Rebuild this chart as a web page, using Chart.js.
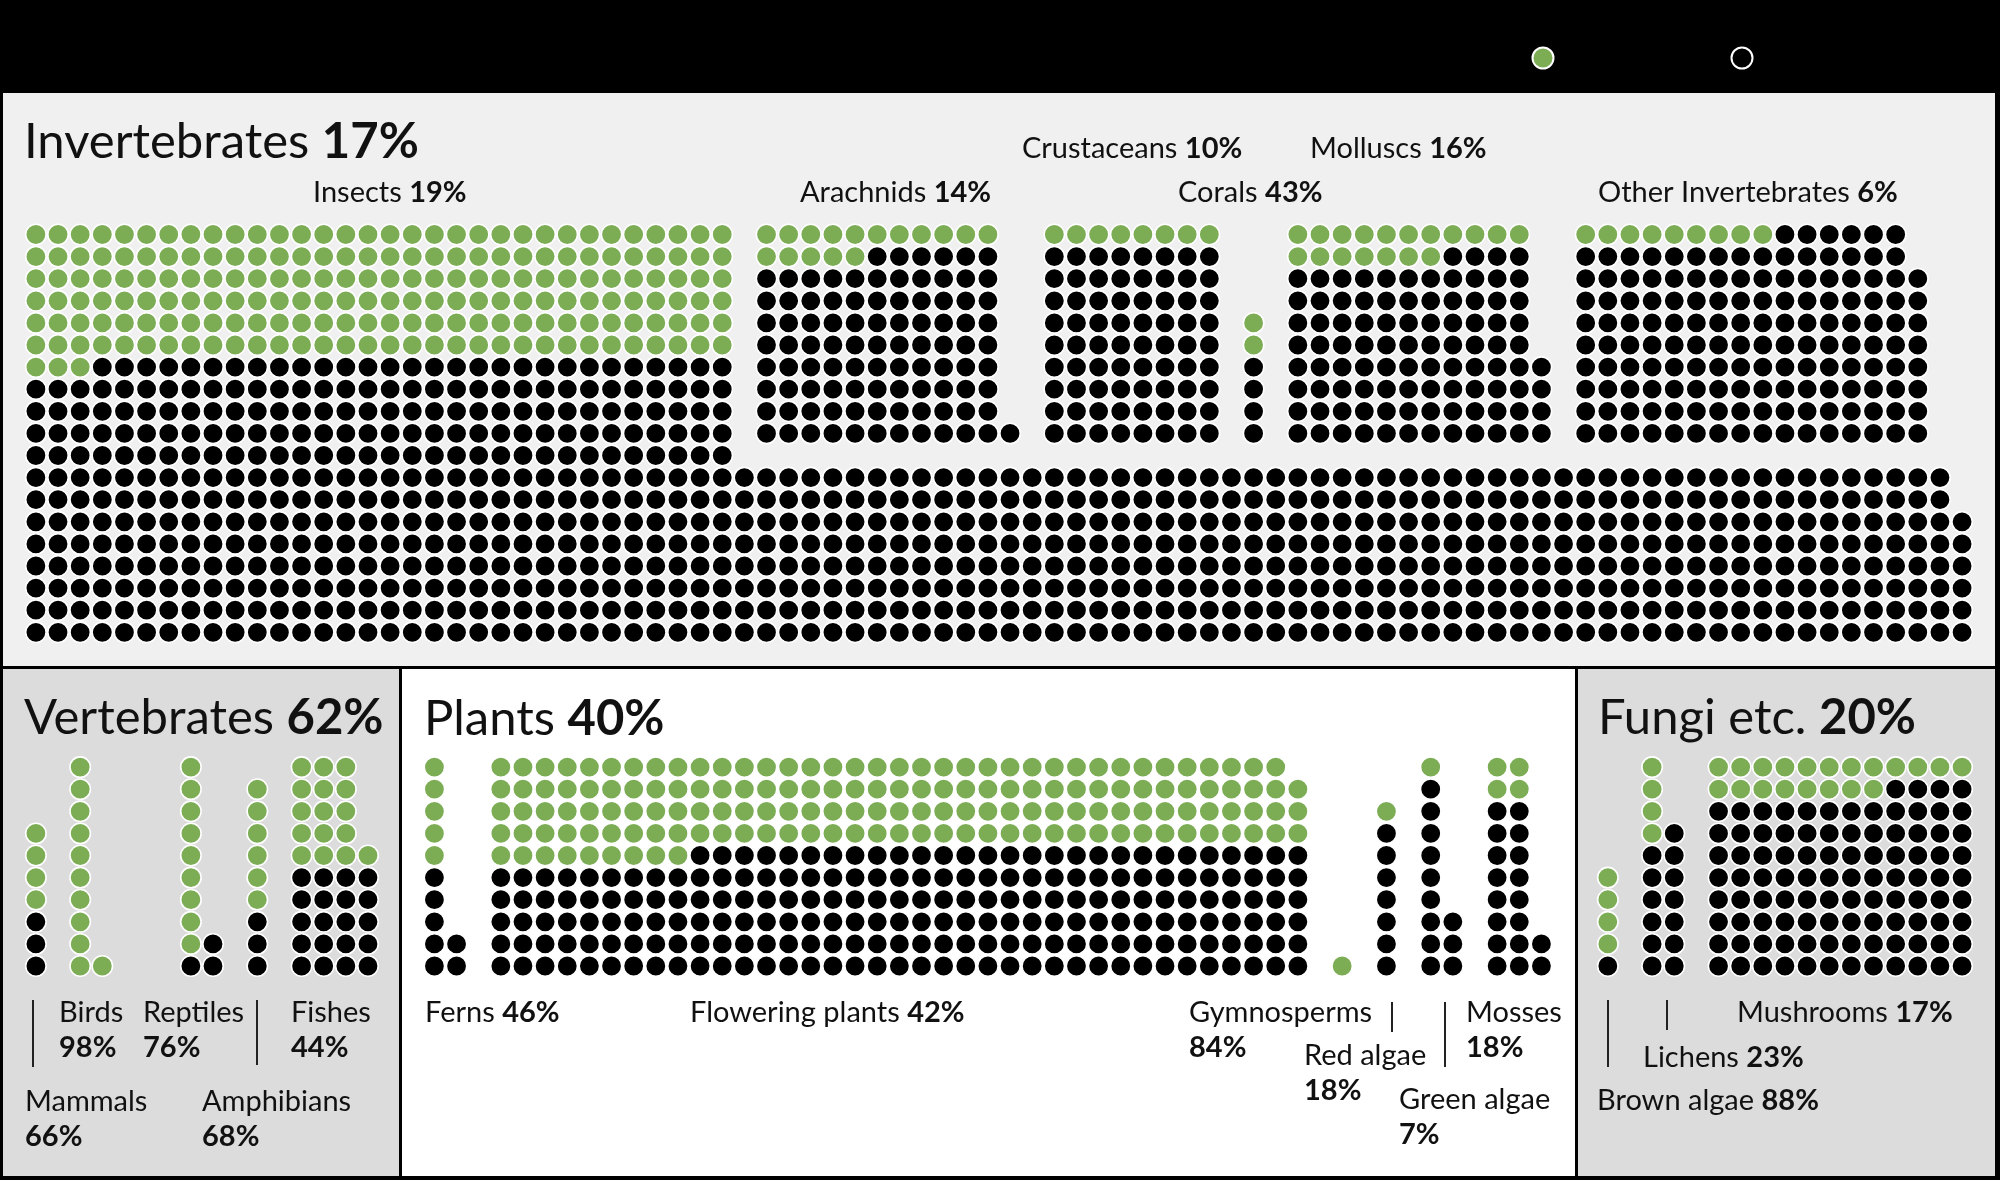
<!DOCTYPE html>
<html>
<head>
<meta charset="utf-8">
<script src="https://cdn.jsdelivr.net/npm/chart.js@4.4.1/dist/chart.umd.min.js"></script>
<style>
  html, body { margin: 0; padding: 0; background: #000; }
  #wrap { width: 2000px; height: 1180px; }
</style>
</head>
<body>
<div id="wrap"><canvas id="dots" width="2000" height="1180"></canvas></div>
<script>
// one dot per group of species, green = share shown next to the name
const groupNames = ['Insects', 'Arachnids', 'Crustaceans', 'Corals', 'Molluscs', 'Other Invertebrates',
  'Mammals', 'Birds', 'Reptiles', 'Amphibians', 'Fishes',
  'Ferns', 'Flowering plants', 'Gymnosperms', 'Red algae', 'Green algae', 'Mosses',
  'Brown algae', 'Lichens', 'Mushrooms'];
const groupShares = ['19%', '14%', '10%', '43%', '16%', '6%',
  '66%', '98%', '76%', '68%', '44%',
  '46%', '42%', '84%', '18%', '7%', '18%',
  '88%', '23%', '17%'];
// dots of each group as runs of [number of columns, dots per column]
const dotColumns = [
  [[32, 19], [55, 8], [1, 6]],
  [[11, 10], [1, 1]],
  [[8, 10]],
  [[1, 6]],
  [[11, 10], [1, 4]],
  [[15, 10], [1, 8]],
  [[1, 7]],
  [[1, 10], [1, 1]],
  [[1, 10], [1, 2]],
  [[1, 9]],
  [[3, 10], [1, 6]],
  [[1, 10], [1, 2]],
  [[36, 10], [1, 9]],
  [[1, 1]],
  [[1, 8]],
  [[1, 10], [1, 3]],
  [[2, 10], [1, 2]],
  [[1, 5]],
  [[1, 10], [1, 7]],
  [[12, 10]]
];
const greenDots = [195, 16, 8, 2, 18, 9, 4, 11, 9, 6, 16, 5, 156, 1, 1, 1, 4, 4, 4, 20];
const sectionNames = ['Invertebrates', 'Vertebrates', 'Plants', 'Fungi etc.'];
const sectionShares = ['17%', '62%', '40%', '20%'];

// layout: first column and bottom row of each group on the dot grid
const BOTTOM_PANELS = 24.1;
const firstCol = [0, 33, 46, 55, 57, 70, 0, 2, 7, 10, 12, 18, 21, 59, 61, 63, 66, 71, 73, 76];
const bottomRow = [18, 9, 9, 9, 9, 9].concat(Array(14).fill(BOTTOM_PANELS + 9));

// label placement [x, baseline, pct on second line]
const labelPos = [
  [313, 202, 0], [800, 202, 0], [1022, 158, 0], [1178, 202, 0], [1310, 158, 0], [1598, 202, 0],
  [25, 1111, 1], [59, 1022, 1], [143, 1022, 1], [202, 1111, 1], [291, 1022, 1],
  [425, 1022, 0], [690, 1022, 0], [1189, 1022, 1], [1304, 1065, 1], [1399, 1109, 1], [1466, 1022, 1],
  [1597, 1110, 0], [1643, 1067, 0], [1737, 1022, 0]
];
const titlePos = [[24, 158], [24, 734], [424, 735], [1598, 734]];
const leaders = [[33, 1000, 1067], [257, 1000, 1065], [1392, 1002, 1032], [1445, 1002, 1067], [1608, 1000, 1067], [1667, 1000, 1030]];

const GREEN = '#7cad55';
const greenPts = [], blackPts = [];
dotColumns.forEach((runs, g) => {
  var pts = [];
  var col = firstCol[g];
  runs.forEach(([n, h]) => {
    for (var i = 0; i < n; i++) {
      for (var k = 0; k < h; k++) pts.push({ x: col, y: bottomRow[g] - k });
      col++;
    }
  });
  pts.sort((a, b) => (a.y - b.y) || (a.x - b.x));
  pts.forEach((p, i) => (i < greenDots[g] ? greenPts : blackPts).push(p));
});

const panels = {
  id: 'panels',
  beforeDatasetsDraw(chart) {
    const ctx = chart.ctx;
    ctx.save();
    ctx.fillStyle = '#000';
    ctx.fillRect(0, 0, 2000, 1180);
    ctx.fillStyle = '#f0f0f0';
    ctx.fillRect(3, 93, 1992, 573);
    ctx.fillStyle = '#dcdcdc';
    ctx.fillRect(3, 669, 396, 507);
    ctx.fillRect(1578, 669, 417, 507);
    ctx.fillStyle = '#fff';
    ctx.fillRect(402, 669, 1173, 507);
    ctx.restore();
  },
  afterDatasetsDraw(chart) {
    const ctx = chart.ctx;
    ctx.save();
    ctx.fillStyle = '#111';
    ctx.textBaseline = 'alphabetic';
    function mixed(x, y, a, b, size) {
      ctx.font = '400 ' + size + 'px Lato';
      ctx.fillText(a + ' ', x, y);
      var w = ctx.measureText(a + ' ').width;
      ctx.font = '700 ' + size + 'px Lato';
      ctx.fillText(b, x + w, y);
    }
    sectionNames.forEach((s, i) => mixed(titlePos[i][0], titlePos[i][1], s, sectionShares[i], 49));
    groupNames.forEach((s, i) => {
      var p = labelPos[i];
      if (p[2]) {
        ctx.font = '400 29px Lato';
        ctx.fillText(s, p[0], p[1]);
        ctx.font = '700 29px Lato';
        ctx.fillText(groupShares[i], p[0], p[1] + 35);
      } else {
        mixed(p[0], p[1], s, groupShares[i], 29);
      }
    });
    ctx.strokeStyle = '#222';
    ctx.lineWidth = 2;
    leaders.forEach(([x, y1, y2]) => {
      ctx.beginPath();
      ctx.moveTo(x, y1);
      ctx.lineTo(x, y2);
      ctx.stroke();
    });
    // legend dots in the header
    ctx.lineWidth = 2;
    ctx.strokeStyle = '#fff';
    [[1543, GREEN], [1742, '#000']].forEach(([x, c]) => {
      ctx.beginPath();
      ctx.arc(x, 58, 10.5, 0, Math.PI * 2);
      ctx.fillStyle = c;
      ctx.fill();
      ctx.stroke();
    });
    ctx.restore();
  }
};

function dotSet(data, color) {
  return {
    data: data,
    pointRadius: 10.2,
    pointHoverRadius: 10.2,
    pointBackgroundColor: color,
    pointBorderColor: '#fff',
    pointBorderWidth: 1.6
  };
}

const X0 = -35.9 / 22.14, Y0 = -234.5 / 22.1;
new Chart(document.getElementById('dots').getContext('2d'), {
  type: 'scatter',
  data: { datasets: [dotSet(blackPts, '#000'), dotSet(greenPts, GREEN)] },
  options: {
    responsive: false,
    animation: false,
    devicePixelRatio: 1,
    layout: { padding: 0, autoPadding: false },
    scales: {
      x: { type: 'linear', display: false, min: X0, max: X0 + 2000 / 22.14 },
      y: { type: 'linear', display: false, reverse: true, min: Y0, max: Y0 + 1180 / 22.1 }
    },
    plugins: { legend: { display: false }, tooltip: { enabled: false } },
    events: []
  },
  plugins: [panels]
});
</script>
</body>
</html>
